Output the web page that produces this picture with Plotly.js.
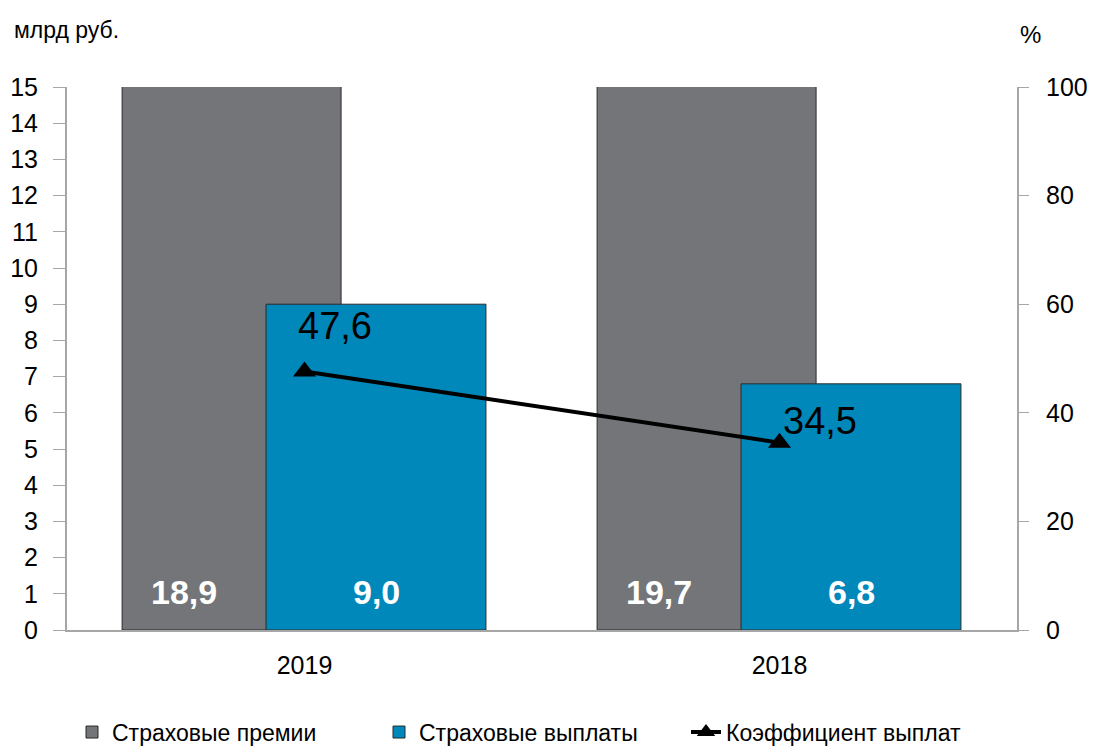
<!DOCTYPE html>
<html>
<head>
<meta charset="utf-8">
<script src="https://cdn.plot.ly/plotly-3.0.1.min.js"></script>
<style>html,body{margin:0;padding:0;background:#fff;}#chart{width:1094px;height:746px;}</style>
</head>
<body>
<div id="chart"></div>
<script>
const categories = ['2019', '2018'];
const premiums = [18.9, 19.7];
const payouts = [9.0, 6.8];
const ratio = [47.6, 34.5];
const premiumLabels = ['18,9', '19,7'];
const payoutLabels = ['9,0', '6,8'];
const ratioLabels = ['47,6', '34,5'];

const FONT = 'Liberation Sans, Arial, sans-serif';

const traces = [
  {
    type: 'bar', name: 'Страховые премии', x: categories, y: premiums,
    width: [0.461, 0.461], offset: [-0.384, -0.384],
    marker: {color: '#737579', line: {color: '#2b2b2b', width: 1}},
    hoverinfo: 'skip'
  },
  {
    type: 'bar', name: 'Страховые выплаты', x: categories, y: payouts,
    width: [0.463, 0.463], offset: [-0.081, -0.081],
    marker: {color: '#0088ba', line: {color: '#2b2b2b', width: 1}},
    hoverinfo: 'skip'
  },
  {
    type: 'scatter', mode: 'lines+markers', name: 'Коэффициент выплат',
    x: categories, y: ratio, yaxis: 'y2',
    line: {color: '#000', width: 4},
    marker: {symbol: 'triangle-up', size: 20, color: '#000'},
    hoverinfo: 'skip'
  }
];

const annotations = [];
categories.forEach((c, i) => {
  annotations.push({x: i, y: 0, xref: 'x', yref: 'y', text: '<b>' + premiumLabels[i] + '</b>', showarrow: false,
    xshift: -121, yshift: 38, yanchor: 'middle', font: {family: FONT, size: 34, color: '#fff'}});
  annotations.push({x: i, y: 0, xref: 'x', yref: 'y', text: '<b>' + payoutLabels[i] + '</b>', showarrow: false,
    xshift: 72, yshift: 38, yanchor: 'middle', font: {family: FONT, size: 34, color: '#fff'}});
});
const ratioShift = [[30, 46], [40, 22]];
categories.forEach((c, i) => {
  annotations.push({x: i, y: ratio[i], xref: 'x', yref: 'y2', text: ratioLabels[i], showarrow: false,
    xshift: ratioShift[i][0], yshift: ratioShift[i][1], yanchor: 'middle', font: {family: FONT, size: 38, color: '#000'}});
});
annotations.push({x: -0.058, y: 1.105, xref: 'paper', yref: 'paper', xanchor: 'left', yanchor: 'middle',
  text: 'млрд руб.', showarrow: false, font: {family: FONT, size: 23, color: '#000'}});
annotations.push({x: 1.0137, y: 1.096, xref: 'paper', yref: 'paper', xanchor: 'center', yanchor: 'middle',
  text: '%', showarrow: false, font: {family: FONT, size: 24, color: '#000'}});

const layout = {
  width: 1094, height: 746,
  margin: {l: 67, r: 77, t: 87, b: 116, autoexpand: false},
  paper_bgcolor: '#fff', plot_bgcolor: '#fff',
  font: {family: FONT, size: 25, color: '#000'},
  barmode: 'overlay',
  showlegend: true,
  legend: {orientation: 'h', x: 0.49, xanchor: 'center', y: -0.188, yanchor: 'middle', bgcolor: 'rgba(0,0,0,0)',
    font: {family: FONT, size: 23, color: '#000'}, entrywidth: 262, traceorder: 'normal'},
  xaxis: {type: 'category', range: [-0.5, 1.5], showline: true, linecolor: '#a6a6a6', linewidth: 2,
    ticks: '', showgrid: false, zeroline: false, tickfont: {size: 25}, ticklabelstandoff: 12},
  yaxis: {range: [0, 15], dtick: 1, showline: true, linecolor: '#a6a6a6', linewidth: 2, ticks: 'outside',
    ticklen: 12, tickcolor: '#a6a6a6', tickwidth: 1, showgrid: false, zeroline: false, tickfont: {size: 25}, ticklabelstandoff: 10},
  yaxis2: {range: [0, 100], dtick: 20, overlaying: 'y', side: 'right', showline: true, linecolor: '#a6a6a6', linewidth: 2,
    ticks: 'outside', ticklen: 10, tickcolor: '#a6a6a6', tickwidth: 1, showgrid: false, zeroline: false, tickfont: {size: 25}, ticklabelstandoff: 12},
  annotations: annotations
};

Plotly.newPlot('chart', traces, layout, {displayModeBar: false, staticPlot: true});
</script>
</body>
</html>
